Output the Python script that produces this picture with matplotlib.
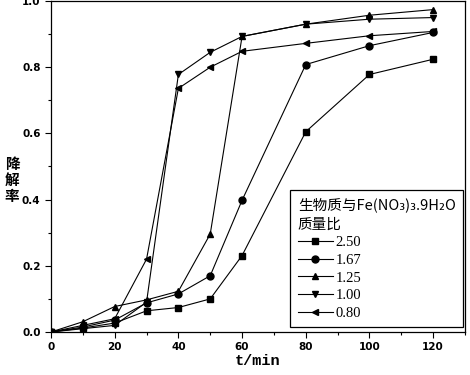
import numpy as np
import matplotlib
matplotlib.use("Agg")
import matplotlib.pyplot as plt
from matplotlib.ticker import MultipleLocator

plt.rcParams["font.family"] = ["Noto Sans CJK SC", "DejaVu Sans"]

# time points (min)
t = [0, 10, 20, 30, 40, 50, 60, 80, 100, 120]

# degradation rate for each biomass : Fe(NO3)3.9H2O mass ratio
r250 = [0.0, 0.012, 0.027, 0.064, 0.074, 0.100, 0.231, 0.605, 0.778, 0.824]
r167 = [0.0, 0.015, 0.036, 0.088, 0.115, 0.170, 0.398, 0.808, 0.865, 0.905]
r125 = [0.0, 0.031, 0.077, 0.097, 0.123, 0.296, 0.893, 0.930, 0.957, 0.974]
r100 = [0.0, 0.010, 0.020, 0.090, 0.778, 0.845, 0.893, 0.930, 0.945, 0.950]
r080 = [0.0, 0.020, 0.040, 0.220, 0.736, 0.800, 0.848, 0.872, 0.895, 0.908]

series = [
    ("2.50", r250, "s"),
    ("1.67", r167, "o"),
    ("1.25", r125, "^"),
    ("1.00", r100, "v"),
    ("0.80", r080, "<"),
]

fig = plt.figure(figsize=(4.7, 3.75), dpi=100)
ax = fig.add_axes([51 / 470, 43 / 375, 414 / 470, 331 / 375])

for label, vals, mk in series:
    ax.plot(t, vals, color="black", linewidth=0.8, marker=mk,
            markersize=5, label=label)

ax.set_xlim(0, 130)
ax.set_ylim(0, 1.0)
ax.xaxis.set_major_locator(MultipleLocator(20))
ax.xaxis.set_minor_locator(MultipleLocator(10))
ax.yaxis.set_major_locator(MultipleLocator(0.2))
ax.yaxis.set_minor_locator(MultipleLocator(0.1))
ax.yaxis.set_major_formatter(plt.FuncFormatter(lambda v, p: f"{v:.1f}"))

ax.tick_params(which="major", direction="out", length=4, width=0.8,
               labelsize=7.5, top=False, right=False)
ax.tick_params(which="minor", direction="out", length=2.5, width=0.8,
               top=False, right=False)
for lab in ax.get_xticklabels() + ax.get_yticklabels():
    lab.set_fontweight("bold")
    lab.set_family("DejaVu Sans")
for sp in ax.spines.values():
    sp.set_linewidth(0.9)

ax.set_xlabel("t/min", fontsize=11, fontweight="bold",
              family=["Liberation Mono", "DejaVu Sans Mono"], labelpad=1)
fig.text(12 / 470, 1 - 180 / 375, "降\n解\n率", fontsize=10.5, fontweight="bold",
         ha="center", va="center", linespacing=1.0)

leg = ax.legend(title="生物质与Fe(NO₃)₃.9H₂O\n质量比", loc="lower right",
                bbox_to_anchor=(0.995, 0.015), borderaxespad=0,
                frameon=True, fancybox=False,
                edgecolor="black", framealpha=1, borderpad=0.5,
                handlelength=2.4, handletextpad=0.2, labelspacing=0.3,
                alignment="left",
                prop={"family": ["Liberation Serif", "DejaVu Serif"], "size": 10.5})
leg.get_title().set_fontsize(10.5)
leg.get_title().set_linespacing(1.5)
leg.get_frame().set_linewidth(0.9)

fig.savefig("out.png", dpi=100)
